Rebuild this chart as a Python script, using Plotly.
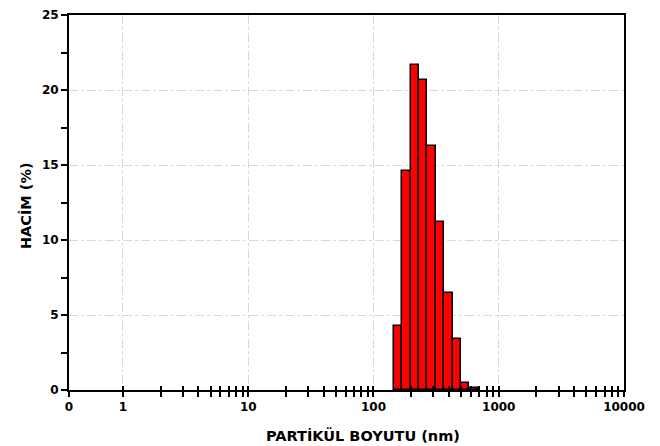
import numpy as np
import plotly.graph_objects as go

# Data
sizes_nm = [156.9, 183.1, 213.7, 249.4, 291.1, 339.8, 396.6, 462.9, 540.3, 630.5]
volume_pct = [4.3, 14.6, 21.7, 20.7, 16.3, 11.2, 6.5, 3.4, 0.5, 0.15]

x_tick_labels = ["0", "1", "10", "100", "1000", "10000"]
y_tick_values = [0, 5, 10, 15, 20, 25]

x_start = -0.431  # log10 of the axis origin (labelled "0")
bin_width = 0.0671  # bin width in decades

log_sizes = np.log10(sizes_nm)
major_x = [x_start, 0, 1, 2, 3, 4]
minor_x = [d + np.log10(m) for d in range(4) for m in range(2, 10)]
all_x = [0, 1, 2, 3, 4] + minor_x

FONT = "DejaVu Sans"

fig = go.Figure()
fig.add_trace(go.Bar(
    x=log_sizes, y=volume_pct, width=bin_width,
    marker=dict(color="#FF0000", line=dict(color="black", width=1.5)),
    showlegend=False, hoverinfo="skip",
))
fig.add_trace(go.Scatter(x=[None], y=[None], xaxis="x2", yaxis="y",
                         showlegend=False, hoverinfo="skip"))

fig.update_layout(
    width=652, height=438,
    margin=dict(l=61, r=36, t=7, b=56, autoexpand=False),
    plot_bgcolor="white", paper_bgcolor="white",
    bargap=0,
    font=dict(family=FONT, color="black"),
    xaxis=dict(
        type="linear", range=[x_start, 4], automargin=False,
        tickmode="array", tickvals=major_x, ticktext=x_tick_labels,
        ticks="outside", ticklen=5, tickwidth=1.5, tickcolor="black",
        tickfont=dict(family=FONT, size=12, weight="bold", color="black"),
        showgrid=True, gridcolor="#d9d9d9", gridwidth=1, griddash="dashdot",
        showline=True, linewidth=2, linecolor="black", mirror=True,
        zeroline=False,
        minor=dict(tickmode="array", tickvals=minor_x, ticks="outside",
                   ticklen=5, tickwidth=1.5, tickcolor="black", showgrid=False),
    ),
    xaxis2=dict(
        overlaying="x", anchor="y", side="bottom", type="linear",
        range=[x_start, 4], tickmode="array", tickvals=all_x, automargin=False,
        ticks="inside", ticklen=4, tickwidth=1.5, tickcolor="black",
        showticklabels=False, showgrid=False, showline=False, zeroline=False,
    ),
    yaxis=dict(
        range=[0, 25], tickmode="array", tickvals=y_tick_values, automargin=False,
        ticks="outside", ticklen=6, tickwidth=1.5, tickcolor="black",
        tickfont=dict(family=FONT, size=12, weight="bold", color="black"),
        showgrid=True, gridcolor="#d9d9d9", gridwidth=1, griddash="dashdot",
        showline=True, linewidth=2, linecolor="black", mirror=True,
        zeroline=False,
        minor=dict(tickmode="array", tickvals=[2.5, 7.5, 12.5, 17.5, 22.5],
                   ticks="outside", ticklen=6, tickwidth=1.5,
                   tickcolor="black", showgrid=False),
    ),
    annotations=[
        dict(text="PARTİKÜL BOYUTU (nm)", xref="paper", yref="paper",
             x=0.53, y=-0.12, xanchor="center", yanchor="middle",
             showarrow=False,
             font=dict(family=FONT, size=14.5, weight="bold", color="black")),
        dict(text="HACİM (%)", xref="paper", yref="paper",
             x=-0.0775, y=0.493, xanchor="center", yanchor="middle",
             textangle=-90, showarrow=False,
             font=dict(family=FONT, size=14.5, weight="bold", color="black")),
    ],
)

fig.write_html("out.html")
